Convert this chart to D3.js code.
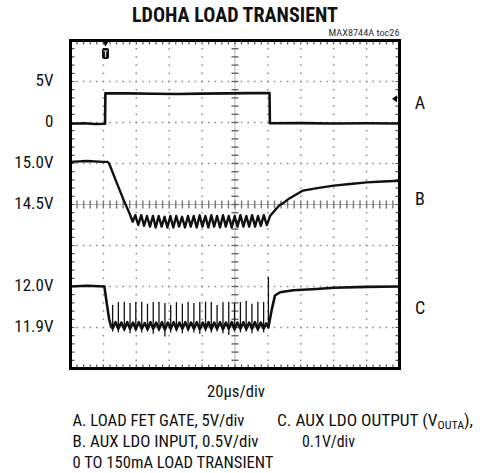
<!DOCTYPE html>
<html>
<head>
<meta charset="utf-8">
<script src="https://cdn.jsdelivr.net/npm/d3@7"></script>
<style>
  body { margin: 0; background: #fff; }
  text { font-family: "Liberation Sans Narrow", "Arial Narrow", "Roboto Condensed", sans-serif; fill: #111; }
</style>
</head>
<body>
<div id="chart"></div>
<script>
// ---- data (time in us, volts) ----
const timeDomain = [0, 200];          // 20us/div, 10 divisions
const trigTime = 21.3;
const trigLevelA = 2.9;

// channel settings: volts per division and the division where "ref" volts sits
const chanA = { perDiv: 5, ref: 0, refDiv: 2 };
const chanB = { perDiv: 0.5, ref: 14.5, refDiv: 0 };
const chanC = { perDiv: 0.1, ref: 12.0, refDiv: -2 };

// A: load FET gate
const traceA = [
  [0, -0.15], [8, -0.1], [15, -0.18], [21.0, -0.15], [21.2, 3.55], [35, 3.55], [50, 3.5],
  [65, 3.48], [80, 3.52], [95, 3.55], [110, 3.58], [121.0, 3.58], [121.2, -0.1],
  [140, -0.08], [160, -0.12], [180, -0.1], [200, -0.12]
];

// B: aux LDO input
const traceB = [
  [0, 15.02], [10, 15.03], [20, 15.02], [22.5, 15.02], [23.5, 15.0], [28, 14.77], [33, 14.52],
  [35.5, 14.41], [36.5, 14.36], [37.8, 14.29], [39.4, 14.37], [41.2, 14.25], [43.0, 14.37],
  [44.7, 14.24], [46.5, 14.36], [48.3, 14.23], [50.1, 14.36], [51.8, 14.22], [53.6, 14.36],
  [55.4, 14.23], [57.2, 14.35], [58.9, 14.22], [60.7, 14.36], [62.5, 14.22], [64.3, 14.36],
  [66.0, 14.23], [67.8, 14.35], [69.6, 14.22], [71.4, 14.36], [73.1, 14.23], [74.9, 14.36],
  [76.7, 14.22], [78.5, 14.37], [80.2, 14.23], [82.0, 14.36], [83.8, 14.22], [85.6, 14.37],
  [87.3, 14.23], [89.1, 14.36], [90.9, 14.22], [92.7, 14.37], [94.4, 14.23], [96.2, 14.36],
  [98.0, 14.22], [99.8, 14.36], [101.5, 14.23], [103.3, 14.37], [105.1, 14.23], [106.9, 14.36],
  [108.6, 14.23], [110.4, 14.37], [112.2, 14.23], [114.0, 14.36], [115.7, 14.24], [117.5, 14.37],
  [119.3, 14.25], [120.3, 14.30], [121.3, 14.36], [124.3, 14.43], [127, 14.49], [129.5, 14.52],
  [132, 14.56], [135.4, 14.60], [141.3, 14.67], [150, 14.70], [160, 14.73], [170, 14.75],
  [180, 14.77], [190, 14.78], [200, 14.79]
];

// C: aux LDO output, slow part and ripple floor
const traceC = [
  [0, 12.0], [10, 12.002], [20.6, 12.0], [22, 11.96], [23.5, 11.92], [24.5, 11.905],
  [25.6, 11.898], [27.4, 11.913], [29.1, 11.897], [30.9, 11.912], [32.7, 11.896], [34.5, 11.913],
  [36.2, 11.897], [38.0, 11.912], [39.7, 11.896], [41.5, 11.913], [43.3, 11.897], [45.1, 11.911],
  [46.8, 11.896], [48.6, 11.913], [50.3, 11.897], [52.1, 11.912], [53.8, 11.896], [55.6, 11.913],
  [57.4, 11.895], [59.2, 11.912], [60.9, 11.897], [62.7, 11.913], [64.4, 11.896], [66.2, 11.912],
  [68.0, 11.897], [69.8, 11.913], [71.5, 11.896], [73.3, 11.912], [75.0, 11.897], [76.8, 11.913],
  [78.6, 11.896], [80.4, 11.912], [82.1, 11.897], [83.9, 11.913], [85.6, 11.896], [87.4, 11.912],
  [89.1, 11.897], [90.9, 11.913], [92.7, 11.896], [94.5, 11.912], [96.2, 11.897], [98.0, 11.913],
  [99.7, 11.896], [101.5, 11.912], [103.3, 11.897], [105.1, 11.913], [106.8, 11.896], [108.6, 11.912],
  [110.3, 11.897], [112.1, 11.913], [113.9, 11.896], [115.7, 11.912], [117.4, 11.897], [119.0, 11.91],
  [120.3, 11.9], [122.3, 11.943], [124.3, 11.978], [127.4, 11.986], [135.4, 11.991],
  [149.7, 11.994], [160, 11.997], [180, 11.999], [200, 12.0]
];

// C: switching spikes (time, top, bottom)
const spikeTimes = [25.6, 29.1, 32.7, 36.2, 39.7, 43.3, 46.8, 50.3, 53.8, 57.4, 60.9, 64.4, 68.0, 71.5,
  75.0, 78.6, 82.1, 85.6, 89.1, 92.7, 96.2, 99.7, 103.3, 106.8, 110.3, 113.9, 117.4, 120.3];
const spikeTops = [11.955, 11.962, 11.963, 11.96, 11.962, 11.963, 11.958, 11.962, 11.963, 11.96,
  11.955, 11.962, 11.958, 11.963, 11.96, 11.962, 11.963, 11.962, 11.955, 11.962, 11.963, 11.96,
  11.962, 11.965, 11.958, 11.963, 11.962, 12.024];
const spikeBottoms = [11.89, 11.888, 11.89, 11.886, 11.89, 11.888, 11.89, 11.885, 11.89, 11.878,
  11.888, 11.89, 11.886, 11.89, 11.888, 11.884, 11.89, 11.888, 11.89, 11.886, 11.882, 11.89,
  11.888, 11.89, 11.886, 11.89, 11.888, 11.898];

// axis labels
const leftLabels = [
  { text: "5V", chan: "A", v: 5 },
  { text: "0", chan: "A", v: 0 },
  { text: "15.0V", chan: "B", v: 15.0 },
  { text: "14.5V", chan: "B", v: 14.5 },
  { text: "12.0V", chan: "C", v: 12.0 },
  { text: "11.9V", chan: "C", v: 11.9 }
];
const traceNames = [{ text: "A", div: 2.5 }, { text: "B", div: 0.15 }, { text: "C", div: -2.5 }];
const noteLines = ["A. LOAD FET GATE, 5V/div", "B. AUX LDO INPUT, 0.5V/div", "0 TO 150mA LOAD TRANSIENT"];
const noteWidths = [172, 186, 201];

// ---- layout ----
const width = 484, height = 473;
const frame = { left: 70.5, right: 399.5, top: 40.5, bottom: 368.5 };

const svg = d3.select("#chart").append("svg")
  .attr("width", width)
  .attr("height", height);

const x = d3.scaleLinear().domain(timeDomain).range([frame.left, frame.right]);
const yDiv = d3.scaleLinear().domain([-4, 4]).range([frame.bottom, frame.top]);

// one volt scale per channel, all on the same 8-division screen
function chanScale(c) {
  return d3.scaleLinear()
    .domain([c.ref + (-4 - c.refDiv) * c.perDiv, c.ref + (4 - c.refDiv) * c.perDiv])
    .range([frame.bottom, frame.top]);
}
const yScales = { A: chanScale(chanA), B: chanScale(chanB), C: chanScale(chanC) };

// graticule
const minorX = d3.range(0, 50.01, 1).map(i => frame.left + i * (frame.right - frame.left) / 50);
const minorY = d3.range(0, 40.01, 1).map(i => frame.top + i * (frame.bottom - frame.top) / 40);
const grid = svg.append("g");

[-3, -2, -1, 1, 2, 3].forEach(d => {
  grid.selectAll(null).data(minorX.slice(1, -1)).join("rect")
    .attr("x", px => px - 0.75).attr("y", yDiv(d) - 0.75)
    .attr("width", 1.5).attr("height", 1.5).attr("fill", "#8a8a8a");
});
[1, 2, 3, 4, 6, 7, 8, 9].forEach(d => {
  const px = frame.left + d * (frame.right - frame.left) / 10;
  grid.selectAll(null).data(minorY.slice(1, -1)).join("rect")
    .attr("x", px - 0.75).attr("y", py => py - 0.75)
    .attr("width", 1.5).attr("height", 1.5).attr("fill", "#8a8a8a");
});

// centre axes with ticks
const cx = (frame.left + frame.right) / 2, cy = yDiv(0);
grid.append("line").attr("x1", frame.left).attr("x2", frame.right).attr("y1", cy).attr("y2", cy)
  .attr("stroke", "#b5b5b5").attr("stroke-width", 1);
grid.append("line").attr("x1", cx).attr("x2", cx).attr("y1", frame.top).attr("y2", frame.bottom)
  .attr("stroke", "#b5b5b5").attr("stroke-width", 1);
grid.selectAll(null).data(minorX.slice(1, -1)).join("line")
  .attr("x1", d => d).attr("x2", d => d).attr("y1", cy - 4).attr("y2", cy + 4)
  .attr("stroke", "#777").attr("stroke-width", 1.4);
grid.selectAll(null).data(minorY.slice(1, -1)).join("line")
  .attr("x1", cx - 3.5).attr("x2", cx + 3.5).attr("y1", d => d).attr("y2", d => d)
  .attr("stroke", "#666").attr("stroke-width", 1.4);

// ticks along the frame
grid.selectAll(null).data(minorX).join("path")
  .attr("d", d => `M${d},${frame.top}v4M${d},${frame.bottom}v-4`)
  .attr("stroke", "#555").attr("stroke-width", 1.2);
grid.selectAll(null).data(minorY).join("path")
  .attr("d", d => `M${frame.left},${d}h4M${frame.right},${d}h-4`)
  .attr("stroke", "#555").attr("stroke-width", 1.2);

// traces
const line = ys => d3.line().x(d => x(d[0])).y(d => ys(d[1]));
const traces = svg.append("g").attr("fill", "none").attr("stroke", "#111").attr("stroke-linejoin", "round");
traces.append("path").datum(traceA).attr("d", line(yScales.A)).attr("stroke-width", 2.6);
traces.append("path").datum(traceB).attr("d", line(yScales.B)).attr("stroke-width", 2.4);
traces.append("path").datum(traceC).attr("d", line(yScales.C)).attr("stroke-width", 2.6);
traces.selectAll(".spike").data(spikeTimes).join("line")
  .attr("class", "spike")
  .attr("x1", d => x(d)).attr("x2", d => x(d))
  .attr("y1", (d, i) => yScales.C(spikeBottoms[i]))
  .attr("y2", (d, i) => yScales.C(spikeTops[i]))
  .attr("stroke-width", 1.3);

// frame
svg.append("rect")
  .attr("x", frame.left).attr("y", frame.top)
  .attr("width", frame.right - frame.left).attr("height", frame.bottom - frame.top)
  .attr("fill", "none").attr("stroke", "#000").attr("stroke-width", 3);

// trigger markers
const tx = x(trigTime);
svg.append("path").attr("d", `M${tx - 3},${frame.top + 1}L${tx + 3},${frame.top + 1}L${tx},${frame.top + 6}Z`).attr("fill", "#000");
svg.append("rect").attr("x", tx - 3.5).attr("y", 48).attr("width", 7).attr("height", 11).attr("rx", 2).attr("fill", "#111");
svg.append("path").attr("d", `M${tx - 2},${51}h4M${tx},${51}v6`).attr("stroke", "#ddd").attr("stroke-width", 1.2);
const ty = yScales.A(trigLevelA);
svg.append("path").attr("d", `M${frame.right - 7.5},${ty}L${frame.right - 2.5},${ty - 3.5}L${frame.right - 2.5},${ty + 3.5}Z`).attr("fill", "#000");

// labels
svg.append("text").attr("x", cx).attr("y", 22).attr("text-anchor", "middle")
  .attr("font-size", 20).attr("font-weight", "bold")
  .attr("textLength", 206).attr("lengthAdjust", "spacingAndGlyphs")
  .text("LDOHA LOAD TRANSIENT");
svg.append("text").attr("x", frame.right).attr("y", 36).attr("text-anchor", "end")
  .attr("font-size", 9).style("fill", "#333")
  .attr("textLength", 71).attr("lengthAdjust", "spacingAndGlyphs")
  .text("MAX8744A toc26");

svg.selectAll(".ylab").data(leftLabels).join("text")
  .attr("class", "ylab")
  .attr("x", 53.5).attr("y", d => yScales[d.chan](d.v) + 4)
  .attr("text-anchor", "end").attr("font-size", 17)
  .text(d => d.text);

svg.selectAll(".tname").data(traceNames).join("text")
  .attr("class", "tname")
  .attr("x", 420).attr("y", d => yDiv(d.div) + 6.5)
  .attr("text-anchor", "middle").attr("font-size", 18)
  .text(d => d.text);

svg.append("text").attr("x", 236).attr("y", 397).attr("text-anchor", "middle")
  .attr("font-size", 16).attr("textLength", 58).attr("lengthAdjust", "spacingAndGlyphs")
  .text("20\u00b5s/div");

svg.selectAll(".note").data(noteLines).join("text")
  .attr("class", "note")
  .attr("x", 72.5).attr("y", (d, i) => 426 + i * 21)
  .attr("font-size", 16)
  .attr("textLength", (d, i) => noteWidths[i]).attr("lengthAdjust", "spacingAndGlyphs")
  .text(d => d);

const noteC = svg.append("text").attr("x", 277).attr("y", 426).attr("font-size", 16)
  .attr("textLength", 196).attr("lengthAdjust", "spacingAndGlyphs");
noteC.append("tspan").text("C. AUX LDO OUTPUT (V");
noteC.append("tspan").attr("font-size", 11).attr("dy", 3).text("OUTA");
noteC.append("tspan").attr("dy", -3).text("),");
svg.append("text").attr("x", 302).attr("y", 447).attr("font-size", 16)
  .attr("textLength", 53).attr("lengthAdjust", "spacingAndGlyphs").text("0.1V/div");
</script>
</body>
</html>
